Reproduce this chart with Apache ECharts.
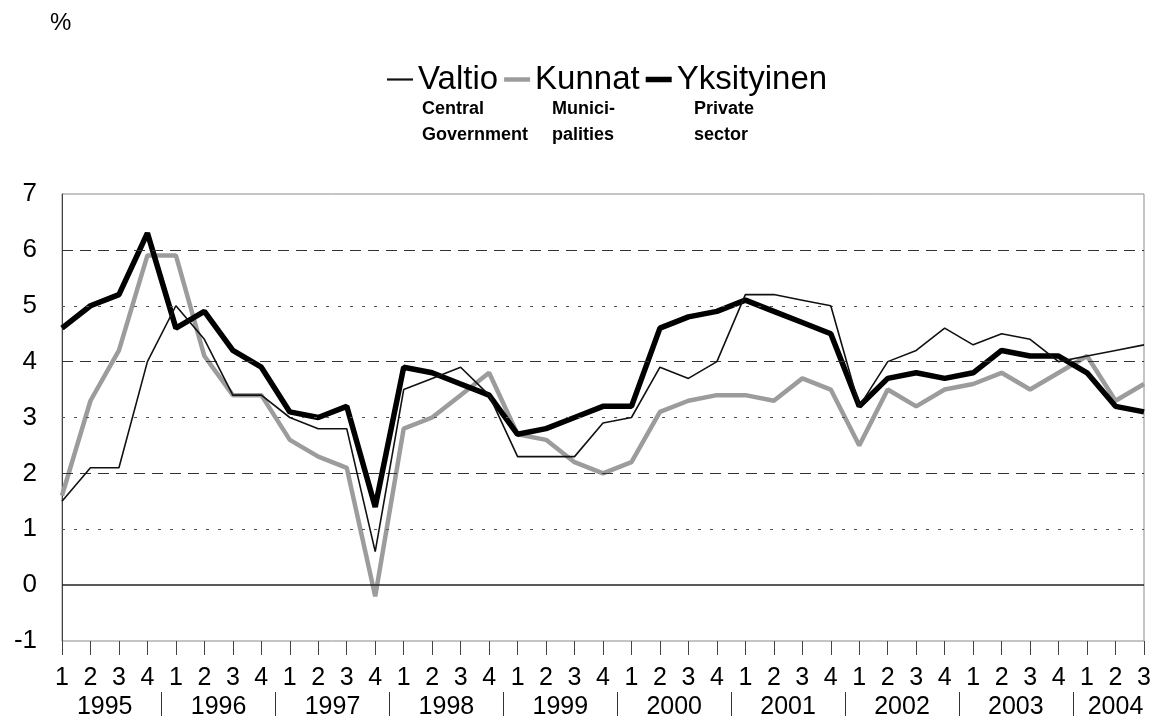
<!DOCTYPE html>
<html>
<head>
<meta charset="utf-8">
<script src="https://cdn.jsdelivr.net/npm/echarts@6/dist/echarts.min.js"></script>
<style>
html,body{margin:0;padding:0;background:#fff;}
#chart{width:1151px;height:717px;}
</style>
</head>
<body>
<div id="chart"></div>
<script>
// ---- data ----
const years = ['1995','1996','1997','1998','1999','2000','2001','2002','2003','2004'];
const quarters = ['1','2','3','4'];
const lastYearQuarters = 3; // 2004 has Q1..Q3
const valtio = [1.5,2.1,2.1,4.0, 5.0,4.4,3.4,3.4, 3.0,2.8,2.8,0.6, 3.5,3.7,3.9,3.4, 2.3,2.3,2.3,2.9, 3.0,3.9,3.7,4.0, 5.2,5.2,5.1,5.0, 3.2,4.0,4.2,4.6, 4.3,4.5,4.4,4.0, 4.1,4.2,4.3];
const kunnat = [1.6,3.3,4.2,5.9, 5.9,4.1,3.4,3.4, 2.6,2.3,2.1,-0.2, 2.8,3.0,3.4,3.8, 2.7,2.6,2.2,2.0, 2.2,3.1,3.3,3.4, 3.4,3.3,3.7,3.5, 2.5,3.5,3.2,3.5, 3.6,3.8,3.5,3.8, 4.1,3.3,3.6];
const yksityinen = [4.6,5.0,5.2,6.3, 4.6,4.9,4.2,3.9, 3.1,3.0,3.2,1.4, 3.9,3.8,3.6,3.4, 2.7,2.8,3.0,3.2, 3.2,4.6,4.8,4.9, 5.1,4.9,4.7,4.5, 3.2,3.7,3.8,3.7, 3.8,4.2,4.1,4.1, 3.8,3.2,3.1];
const seriesNames = ['Valtio','Kunnat','Yksityinen'];
const subLabels = ['Central\nGovernment','Munici-\npalities','Private\nsector'];
const yTicks = {min:-1, max:7, interval:1};
const majorGrid = [2,4,6];
const minorGrid = [1,3,5];
const unitLabel = '%';

// ---- build categories ----
const categories = [];
const yearSpans = [];
years.forEach((y, k) => {
  const nq = (k === years.length - 1) ? lastYearQuarters : 4;
  const first = categories.length;
  for (let q = 0; q < nq; q++) categories.push(y + ' Q' + quarters[q]);
  yearSpans.push({year: y, first: first, last: categories.length - 1});
});
const yearCenters = yearSpans.map(s => (s.first + s.last) / 2);
const yearSeps = yearSpans.slice(0, -1).map(s => s.last + 0.5);

const FONT = '"Liberation Sans", Arial, sans-serif';
const chart = echarts.init(document.getElementById('chart'), null, {renderer:'canvas'});

const lineIcon = h => 'path://M0,0L26,0L26,' + h + 'L0,' + h + 'Z';

const option = {
  backgroundColor: '#fff',
  animation: false,
  textStyle: {fontFamily: FONT},
  grid: {left: 62, right: 7, top: 194, bottom: 76, show: true, borderColor: '#8a8a8a', borderWidth: 1,
         containLabel: false, outerBoundsMode: 'none'},
  legend: {
    data: [
      {name: seriesNames[0], icon: lineIcon(2.2)},
      {name: seriesNames[1], icon: lineIcon(4.5)},
      {name: seriesNames[2], icon: lineIcon(5.5)}
    ],
    left: 382, top: 58,
    itemWidth: 26, itemHeight: 14, itemGap: 6,
    textStyle: {fontSize: 33, color: '#000', fontFamily: FONT},
    selectedMode: false
  },
  graphic: [
    {type:'text', left: 50, top: 11, style:{text: unitLabel, font: '24px ' + FONT, fill:'#000'}},
    {type:'text', left: 422, top: 96, style:{text: subLabels[0], font: 'bold 18px ' + FONT, lineHeight: 26, fill:'#000'}},
    {type:'text', left: 552, top: 96, style:{text: subLabels[1], font: 'bold 18px ' + FONT, lineHeight: 26, fill:'#000'}},
    {type:'text', left: 694, top: 96, style:{text: subLabels[2], font: 'bold 18px ' + FONT, lineHeight: 26, fill:'#000'}}
  ],
  xAxis: [
    {
      type: 'category', data: categories, boundaryGap: false,
      axisLine: {show: false, onZero: false},
      axisTick: {show: true, interval: 0, length: 14, lineStyle: {color: '#444', width: 1}},
      axisLabel: {interval: 0, margin: 25, fontSize: 25, color: '#000', fontFamily: FONT,
        formatter: v => v.split(' Q')[1]},
      splitLine: {show: false}
    },
    {
      type: 'value', min: 0, max: categories.length - 1, position: 'bottom', offset: 51,
      axisLine: {show: false, onZero: false},
      axisTick: {show: true, customValues: yearSeps, length: 24, lineStyle: {color: '#333', width: 1}},
      axisLabel: {show: true, customValues: yearCenters, margin: 3, fontSize: 25, color: '#000', fontFamily: FONT,
        formatter: v => { const i = yearCenters.indexOf(v); return i >= 0 ? years[i] : ''; }},
      splitLine: {show: false}
    }
  ],
  yAxis: {
    type: 'value', min: yTicks.min, max: yTicks.max, interval: yTicks.interval,
    axisLine: {show: true, lineStyle: {color: '#444', width: 1}},
    axisTick: {show: false},
    axisLabel: {fontSize: 26, color: '#000', margin: 25, fontFamily: FONT},
    splitLine: {show: false}
  },
  series: [
    {
      name: 'grid', type: 'line', xAxisIndex: 0, data: categories.map(() => null), z: 1,
      symbol: 'none', silent: true,
      markLine: {
        silent: true, symbol: 'none', label: {show: false}, animation: false,
        data: [
          ...minorGrid.map(v => ({yAxis: v, lineStyle: {type: [3, 9], color: '#555', width: 1}})),
          ...majorGrid.map(v => ({yAxis: v, lineStyle: {type: [11, 7], color: '#333', width: 1}})),
          {yAxis: 0, lineStyle: {type: 'solid', color: '#222', width: 1.5}}
        ]
      }
    },
    {
      name: seriesNames[1], type: 'line', xAxisIndex: 0, data: kunnat, z: 3,
      symbol: 'none', lineStyle: {color: '#9c9c9c', width: 4.5}, itemStyle: {color: '#9c9c9c'}
    },
    {
      name: seriesNames[2], type: 'line', xAxisIndex: 0, data: yksityinen, z: 4,
      symbol: 'none', lineStyle: {color: '#000', width: 5.5}, itemStyle: {color: '#000'}
    },
    {
      name: seriesNames[0], type: 'line', xAxisIndex: 0, data: valtio, z: 5,
      symbol: 'none', lineStyle: {color: '#111', width: 1.6}, itemStyle: {color: '#111'}
    }
  ]
};
chart.setOption(option);
</script>
</body>
</html>
